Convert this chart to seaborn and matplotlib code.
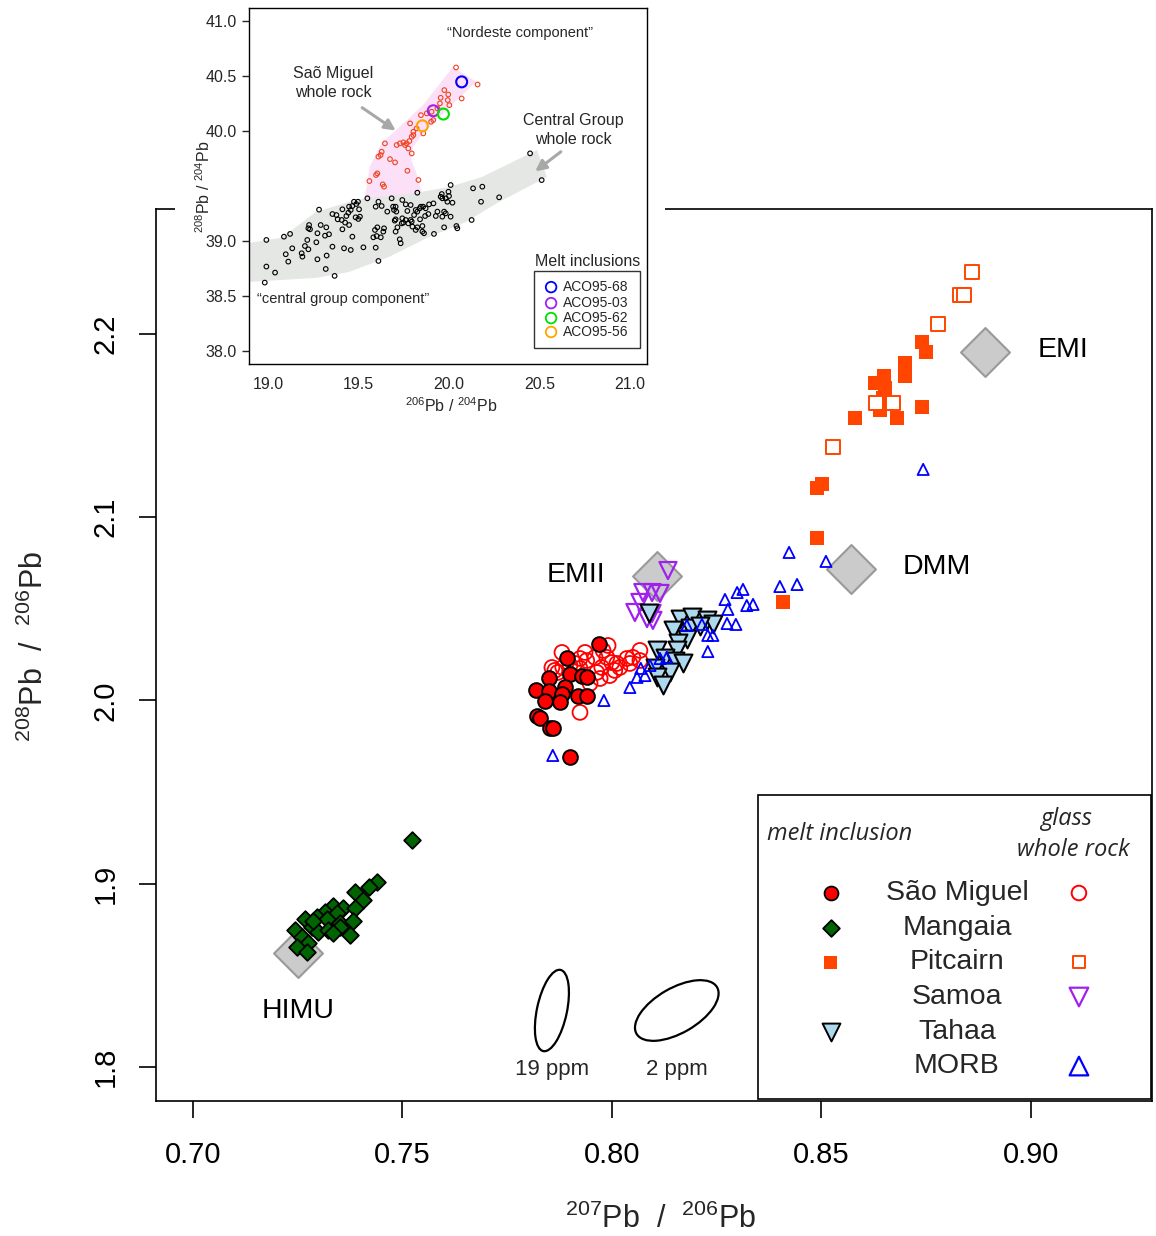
import matplotlib
matplotlib.use("Agg")
import matplotlib.pyplot as plt
import seaborn as sns
from matplotlib.patches import Ellipse, Rectangle
from matplotlib.transforms import ScaledTranslation

# ---------------- main plot data (207Pb/206Pb vs 208Pb/206Pb) ----------------
em_names = ['EMI', 'DMM', 'EMII', 'HIMU']
em_x = [0.889, 0.857, 0.8107, 0.725]
em_y = [2.190, 2.072, 2.0677, 1.862]

sm_mi_x = [0.7969, 0.7893, 0.7900, 0.7850, 0.7928, 0.7940, 0.7819, 0.7850, 0.7888, 0.7881,
           0.7919, 0.7940, 0.7840, 0.7876, 0.7821, 0.7828, 0.7852, 0.7859, 0.7900]
sm_mi_y = [2.0306, 2.0229, 2.0147, 2.0120, 2.0136, 2.0126, 2.0055, 2.0049, 2.0071, 2.0033,
           2.0027, 2.0027, 1.9995, 1.9989, 1.9913, 1.9907, 1.9847, 1.9847, 1.9689]

sm_wr_x = [0.7881, 0.7924, 0.7940, 0.7960, 0.7991, 0.7988, 0.7976, 0.8012, 0.7995, 0.8036,
           0.8067, 0.8067, 0.7864, 0.7871, 0.7912, 0.7924, 0.7964, 0.8007, 0.7972, 0.7948,
           0.7924, 0.7857, 0.7883, 0.7900, 0.7979, 0.8019, 0.8043, 0.8050, 0.7936, 0.8000]
sm_wr_y = [2.0262, 2.0229, 2.0218, 2.0235, 2.0300, 2.0235, 2.0180, 2.0202, 2.0136, 2.0229,
           2.0273, 2.0218, 2.0164, 2.0153, 2.0202, 2.0175, 2.0153, 2.0164, 2.0120, 2.0093,
           1.9935, 2.0180, 2.0180, 2.0191, 2.0273, 2.0180, 2.0202, 2.0235, 2.0262, 2.0207]

mg_x = [0.7523, 0.7439, 0.7420, 0.7387, 0.7406, 0.7334, 0.7358, 0.7387, 0.7315, 0.7344,
        0.7296, 0.7267, 0.7320, 0.7351, 0.7382, 0.7375, 0.7284, 0.7298, 0.7322, 0.7351,
        0.7334, 0.7243, 0.7260, 0.7275, 0.7248, 0.7272, 0.7286]
mg_y = [1.9241, 1.9007, 1.8980, 1.8952, 1.8909, 1.8881, 1.8870, 1.8865, 1.8843, 1.8838,
        1.8816, 1.8810, 1.8810, 1.8783, 1.8799, 1.8718, 1.8761, 1.8734, 1.8745, 1.8761,
        1.8729, 1.8745, 1.8707, 1.8679, 1.8652, 1.8625, 1.8799]

pc_mi_x = [0.8740, 0.8750, 0.8700, 0.8700, 0.8649, 0.8628, 0.8652, 0.8647, 0.8640, 0.8680,
           0.8740, 0.8580, 0.8501, 0.8490, 0.8490, 0.8408]
pc_mi_y = [2.1954, 2.1899, 2.1844, 2.1768, 2.1768, 2.1730, 2.1703, 2.1653, 2.1583, 2.1539,
           2.1599, 2.1539, 2.1179, 2.1162, 2.0889, 2.0535]
pc_wr_x = [0.8860, 0.8831, 0.8840, 0.8778, 0.8630, 0.8671, 0.8528]
pc_wr_y = [2.2336, 2.2210, 2.2210, 2.2057, 2.1621, 2.1626, 2.1381]

sa_x = [0.8134, 0.8074, 0.8096, 0.8115, 0.8067, 0.8055, 0.8096, 0.8098, 0.8084]
sa_y = [2.0709, 2.0589, 2.0589, 2.0584, 2.0535, 2.0480, 2.0475, 2.0437, 2.0447]

th_x = [0.8088, 0.8162, 0.8191, 0.8227, 0.8241, 0.8146, 0.8186, 0.8179, 0.8158, 0.8108,
        0.8155, 0.8127, 0.8151, 0.8170, 0.8103, 0.8139, 0.8108, 0.8122, 0.8210]
th_y = [2.0480, 2.0447, 2.0453, 2.0437, 2.0415, 2.0382, 2.0393, 2.0338, 2.0311, 2.0273,
        2.0273, 2.0229, 2.0218, 2.0207, 2.0175, 2.0153, 2.0126, 2.0082, 2.0409]

mb_x = [0.8743, 0.8423, 0.8511, 0.8401, 0.8442, 0.8313, 0.8299, 0.8270, 0.8337, 0.8322,
        0.8277, 0.8275, 0.8296, 0.8179, 0.8215, 0.8229, 0.8241, 0.8229, 0.8131, 0.8115,
        0.8079, 0.8060, 0.8043, 0.7981, 0.7859, 0.8069, 0.8091]
mb_y = [2.1261, 2.0808, 2.0759, 2.0622, 2.0633, 2.0606, 2.0589, 2.0551, 2.0524, 2.0518,
        2.0497, 2.0420, 2.0415, 2.0409, 2.0415, 2.0355, 2.0355, 2.0267, 2.0235, 2.0229,
        2.0136, 2.0126, 2.0071, 2.0000, 1.9700, 2.0175, 2.0191]

err_labels = ['19 ppm', '2 ppm']
err_x = [0.7857, 0.8155]
err_y = [1.8308, 1.8308]

x_ticks = [0.70, 0.75, 0.80, 0.85, 0.90]
x_ticklabels = ['0.70', '0.75', '0.80', '0.85', '0.90']
y_ticks = [1.8, 1.9, 2.0, 2.1, 2.2]
y_ticklabels = ['1.8', '1.9', '2.0', '2.1', '2.2']

legend_names = ['São Miguel', 'Mangaia', 'Pitcairn', 'Samoa', 'Tahaa', 'MORB']

# ---------------- inset data (206Pb/204Pb vs 208Pb/204Pb) ----------------
cg_x = [20.448, 20.512, 20.184, 20.133, 20.009, 19.997, 19.960, 19.954, 19.963, 20.277,
        20.177, 20.019, 19.991, 19.914, 19.890, 19.857, 19.844, 19.838, 19.871, 19.825,
        19.788, 19.761, 19.742, 19.770, 19.816, 19.807, 19.886, 19.927, 19.973, 19.982,
        20.009, 19.963, 19.840, 19.853, 19.788, 19.794, 19.742, 19.748, 19.705, 19.700,
        19.696, 19.691, 19.683, 19.659, 19.628, 19.595, 19.610, 19.549, 19.497, 19.488,
        19.475, 19.466, 19.457, 19.503, 19.508, 19.499, 19.484, 19.444, 19.433, 19.411,
        19.378, 19.385, 19.356, 19.282, 19.407, 19.426, 19.448, 19.411, 19.322, 19.315,
        19.337, 19.291, 19.273, 19.227, 19.223, 19.232, 19.217, 19.204, 19.223, 19.267,
        19.356, 19.420, 19.457, 19.466, 19.527, 19.595, 19.600, 19.582, 19.623, 19.591,
        19.604, 19.641, 19.637, 19.705, 19.715, 19.739, 19.798, 19.825, 19.853, 19.862,
        19.917, 19.973, 20.041, 20.046, 20.125, 19.728, 19.733, 19.610, 19.324, 19.273,
        19.190, 19.186, 19.134, 19.098, 19.112, 19.088, 19.122, 18.991, 18.991, 19.039,
        18.982, 19.319, 19.368, 19.709, 19.775, 19.868, 19.816, 19.936, 19.761, 19.705,
        19.982, 20.000, 19.825, 19.448]
cg_y = [39.797, 39.554, 39.494, 39.479, 39.509, 39.448, 39.427, 39.403, 39.388, 39.397,
        39.357, 39.348, 39.357, 39.342, 39.333, 39.312, 39.312, 39.297, 39.297, 39.267,
        39.327, 39.333, 39.373, 39.273, 39.282, 39.236, 39.245, 39.227, 39.267, 39.251,
        39.221, 39.221, 39.197, 39.136, 39.191, 39.176, 39.206, 39.167, 39.197, 39.185,
        39.282, 39.312, 39.388, 39.267, 39.318, 39.312, 39.357, 39.388, 39.357, 39.336,
        39.357, 39.318, 39.282, 39.288, 39.221, 39.200, 39.215, 39.257, 39.227, 39.288,
        39.236, 39.197, 39.245, 39.285, 39.191, 39.167, 39.145, 39.106, 39.124, 39.048,
        39.061, 39.145, 39.070, 39.145, 39.115, 39.106, 39.009, 38.954, 38.924, 38.988,
        38.948, 38.933, 38.918, 39.039, 38.942, 38.939, 39.045, 39.033, 39.033, 39.100,
        39.124, 39.115, 39.085, 39.085, 39.124, 39.160, 39.130, 39.124, 39.085, 39.070,
        39.064, 39.124, 39.136, 39.115, 39.191, 39.015, 38.979, 38.818, 38.867, 38.833,
        38.857, 38.888, 38.933, 38.879, 38.812, 39.039, 39.064, 39.009, 38.767, 38.712,
        38.621, 38.745, 38.682, 39.267, 39.160, 39.227, 39.100, 39.267, 39.191, 39.312,
        39.388, 39.409, 39.439, 39.312]

smwr_x = [20.039, 20.158, 19.974, 19.996, 19.954, 20.070, 19.993, 20.002, 19.950, 19.936,
          19.904, 19.877, 19.845, 19.901, 19.913, 19.785, 19.858, 19.821, 19.803, 19.794,
          19.781, 19.766, 19.748, 19.757, 19.775, 19.711, 19.646, 19.628, 19.622, 19.610,
          19.674, 19.702, 19.794, 19.770, 19.831, 19.604, 19.597, 19.560, 19.634, 19.641,
          19.803, 19.729]
smwr_y = [40.579, 40.424, 40.373, 40.333, 40.303, 40.297, 40.282, 40.236, 40.252, 40.206,
          40.176, 40.161, 40.145, 40.085, 40.100, 40.070, 39.979, 40.024, 39.964, 39.948,
          39.909, 39.888, 39.897, 39.873, 39.842, 39.873, 39.888, 39.812, 39.782, 39.767,
          39.745, 39.715, 39.797, 39.639, 39.555, 39.615, 39.600, 39.545, 39.515, 39.494,
          39.994, 39.888]

mi_labels = ['ACO95-68', 'ACO95-03', 'ACO95-62', 'ACO95-56']
mi_colors = ['#0000ff', '#a020f0', '#00e000', '#ffa500']
mi_x = [20.070, 19.913, 19.969, 19.853]
mi_y = [40.448, 40.185, 40.155, 40.048]

pink_x = [19.534, 19.562, 19.626, 19.718, 19.856, 20.022, 20.151, 19.985, 19.856, 19.801,
          19.792, 19.820, 19.851]
pink_y = [39.388, 39.676, 39.888, 40.024, 40.236, 40.585, 40.448, 40.191, 39.979, 39.858,
          39.736, 39.615, 39.433]
gray_x = [18.895, 19.066, 19.133, 19.265, 19.448, 19.541, 19.812, 20.000, 20.182, 20.486,
          20.541, 20.276, 20.094, 19.890, 19.669, 19.448, 19.265, 19.077, 18.895]
gray_y = [38.982, 39.027, 39.100, 39.264, 39.355, 39.391, 39.436, 39.491, 39.582, 39.827,
          39.582, 39.355, 39.173, 39.036, 38.855, 38.718, 38.664, 38.645, 38.627]

in_x_ticks = [19.0, 19.5, 20.0, 20.5, 21.0]
in_x_ticklabels = ['19.0', '19.5', '20.0', '20.5', '21.0']
in_y_ticks = [38.0, 38.5, 39.0, 40.0, 40.5, 41.0]
in_y_ticklabels = ['38.0', '38.5', '39.0', '40.0', '40.5', '41.0']

# ---------------- style ----------------
sns.set_theme(style="ticks")
plt.rcParams['font.family'] = ['Liberation Sans', 'DejaVu Sans']
plt.rcParams['mathtext.fontset'] = 'custom'
plt.rcParams['mathtext.rm'] = 'Liberation Sans'
plt.rcParams['mathtext.default'] = 'rm'
plt.rcParams['axes.linewidth'] = 1.2
plt.rcParams['axes.edgecolor'] = 'black'

RED = '#ff0000'
GREEN = '#006400'
ORANGE = '#ff4500'
PURPLE = '#a020f0'
LBLUE = '#add8ee'
BLUE = '#0000ff'

fig = plt.figure(figsize=(11.56, 12.36), dpi=100)
fig.patch.set_facecolor('white')
ax = fig.add_axes([0.1349, 0.1092, 0.8616, 0.7217])
ax.set_facecolor('white')


def sc(axis, x, y, **kw):
    sns.scatterplot(x=x, y=y, ax=axis, legend=False, **kw)


# end-member diamonds
sc(ax, em_x, em_y, marker='D', s=620, color='#cbcbcb', edgecolor='#999999', linewidth=1.5, zorder=2)
sc(ax, sa_x, sa_y, marker='v', s=150, color=PURPLE, facecolor='none', edgecolor=PURPLE, linewidth=1.6, zorder=3)
sc(ax, sm_wr_x, sm_wr_y, marker='o', s=115, color=RED, facecolor='none', edgecolor=RED, linewidth=1.3, zorder=3)
sc(ax, sm_mi_x, sm_mi_y, marker='o', s=112, color=RED, edgecolor='black', linewidth=1.4, zorder=4)
sc(ax, th_x, th_y, marker='v', s=165, color=LBLUE, edgecolor='black', linewidth=1.5, zorder=4)
sc(ax, mb_x, mb_y, marker='^', s=65, color=BLUE, facecolor='none', edgecolor=BLUE, linewidth=1.3, zorder=5)
sc(ax, mg_x, mg_y, marker='D', s=72, color=GREEN, edgecolor='black', linewidth=1.3, zorder=4)
sc(ax, pc_mi_x, pc_mi_y, marker='s', s=95, color=ORANGE, edgecolor=ORANGE, linewidth=0, zorder=4)
sc(ax, pc_wr_x, pc_wr_y, marker='s', s=90, color=ORANGE, facecolor='white', edgecolor=ORANGE, linewidth=1.4, zorder=5)

# end-member labels
em_label_pos = {'EMI': (0.9015, 2.1915), 'DMM': (0.8695, 2.0731),
                'EMII': (0.7845, 2.0682), 'HIMU': (0.7165, 1.8303)}
for name in em_names:
    px, py = em_label_pos[name]
    ax.text(px, py, name, fontsize=20.5, ha='left', va='center', color='black')

# analytical error ellipses
ell_specs = [(0.30, 0.83, -12), (0.93, 0.45, 30)]
for lab, ex, ey, (w, h, ang) in zip(err_labels, err_x, err_y, ell_specs):
    tr = fig.dpi_scale_trans + ScaledTranslation(ex, ey, ax.transData)
    ax.add_patch(Ellipse((0, 0), w, h, angle=ang, transform=tr, fill=False,
                         edgecolor='black', linewidth=1.6, zorder=3))
    ax.text(ex, 1.7986, lab, fontsize=16, ha='center', va='center')

ax.set_xlim(0.6912, 0.9289)
ax.set_ylim(1.7814, 2.2682)
ax.set_xticks(x_ticks, labels=x_ticklabels)
ax.set_yticks(y_ticks, labels=y_ticklabels, rotation=90, va='center')
ax.tick_params(axis='both', direction='out', length=12, width=1.2, labelsize=21,
               color='black', labelcolor='black')
ax.tick_params(axis='x', pad=17)
ax.tick_params(axis='y', pad=14)
for sp in ax.spines.values():
    sp.set_visible(True)
    sp.set_color('black')
    sp.set_linewidth(1.2)

# custom legend box
ax.add_patch(Rectangle((0.6044, 0.0022), 0.395, 0.341, transform=ax.transAxes,
                       fill=False, edgecolor='black', linewidth=1.2, zorder=6, clip_on=False))
ax.text(0.6867, 0.2993, 'melt inclusion', transform=ax.transAxes, fontsize=17,
        fontstyle='italic', family=['Open Sans', 'DejaVu Sans'], ha='center', va='center')
ax.text(0.9137, 0.3161, 'glass', transform=ax.transAxes, fontsize=17,
        fontstyle='italic', family=['Open Sans', 'DejaVu Sans'], ha='center', va='center')
ax.text(0.9207, 0.2814, 'whole rock', transform=ax.transAxes, fontsize=17,
        fontstyle='italic', family=['Open Sans', 'DejaVu Sans'], ha='center', va='center')
leg_y = [0.2332, 0.1939, 0.1558, 0.1166, 0.0774, 0.0392]
left_specs = [dict(marker='o', s=100, c=RED, edgecolors='black', linewidths=1.3),
              dict(marker='D', s=72, c=GREEN, edgecolors='black', linewidths=1.3),
              dict(marker='s', s=88, c=ORANGE, edgecolors='none'),
              None,
              dict(marker='v', s=165, c=LBLUE, edgecolors='black', linewidths=1.4),
              None]
right_specs = [dict(marker='o', s=110, facecolors='none', edgecolors=RED, linewidths=1.4),
               None,
               dict(marker='s', s=75, facecolors='none', edgecolors=ORANGE, linewidths=1.4),
               dict(marker='v', s=180, facecolors='none', edgecolors=PURPLE, linewidths=1.6),
               None,
               dict(marker='^', s=180, facecolors='none', edgecolors=BLUE, linewidths=1.6)]
for name, yy, ls, rs in zip(legend_names, leg_y, left_specs, right_specs):
    ax.text(0.8042, yy, name, transform=ax.transAxes, fontsize=20.5, ha='center', va='center')
    if ls is not None:
        ax.scatter([0.6777], [yy], transform=ax.transAxes, clip_on=False, zorder=7, **ls)
    if rs is not None:
        ax.scatter([0.9267], [yy], transform=ax.transAxes, clip_on=False, zorder=7, **rs)

# axis labels
fig.text(0.5718, 0.0065, r'$^{207}$Pb  /  $^{206}$Pb', fontsize=22, ha='center', va='baseline')
fig.text(0.0372, 0.4773, r'$^{208}$Pb  /  $^{206}$Pb', fontsize=22, rotation=90,
         rotation_mode='anchor', ha='center', va='baseline')

# white backing of the inset (hides part of main frame)
fig.add_artist(Rectangle((0.1514, 0.6602), 0.4239, 0.3398, transform=fig.transFigure,
                         facecolor='white', edgecolor='none', zorder=1))

# ---------------- inset ----------------
axin = fig.add_axes([0.2154, 0.7055, 0.3443, 0.288], zorder=3)
axin.set_facecolor('white')
axin.fill(pink_x, pink_y, color='#fce0f8', lw=0, zorder=1)
axin.fill(gray_x, gray_y, color='#e4e7e4', lw=0, zorder=1)
sc(axin, cg_x, cg_y, marker='o', s=11, color='black', facecolor='none', edgecolor='black', linewidth=0.8, zorder=3)
sc(axin, smwr_x, smwr_y, marker='o', s=11, color='#ee4422', facecolor='none', edgecolor='#ee4422', linewidth=0.8, zorder=3)
for lab, mx, my, mc in zip(mi_labels, mi_x, mi_y, mi_colors):
    sc(axin, [mx], [my], marker='o', s=62, color=mc, facecolor='none', edgecolor=mc, linewidth=1.5, zorder=4)

axin.annotate('', xy=(19.718, 39.991), xytext=(19.508, 40.227),
              arrowprops=dict(arrowstyle='-|>', color='#a8a8a8', lw=2.2, mutation_scale=16))
axin.annotate('', xy=(20.464, 39.618), xytext=(20.630, 39.827),
              arrowprops=dict(arrowstyle='-|>', color='#a8a8a8', lw=2.2, mutation_scale=16))

axin.text(20.392, 40.891, '“Nordeste component”', fontsize=10.5, ha='center', va='center')
axin.text(19.359, 40.436, 'Saõ Miguel\nwhole rock', fontsize=11.5, ha='center', va='center',
          linespacing=1.3)
axin.text(20.685, 40.009, 'Central Group\nwhole rock', fontsize=11.5, ha='center', va='center',
          linespacing=1.3)
axin.text(19.414, 38.473, '“central group component”', fontsize=10.5, ha='center', va='center')

axin.text(0.852, 0.287, 'Melt inclusions', transform=axin.transAxes, fontsize=11.5,
          ha='center', va='center')
axin.add_patch(Rectangle((0.716, 0.045), 0.266, 0.216, transform=axin.transAxes,
                         fill=False, edgecolor='#333333', linewidth=1.0, zorder=5))
in_leg_y = [0.216, 0.171, 0.129, 0.090]
for lab, mc, yy in zip(mi_labels, mi_colors, in_leg_y):
    axin.scatter([0.759], [yy], transform=axin.transAxes, marker='o', s=58,
                 facecolors='none', edgecolors=mc, linewidths=1.3, zorder=6)
    axin.text(0.789, yy, lab, transform=axin.transAxes, fontsize=10, ha='left', va='center')

axin.set_xlim(18.895, 21.094)
axin.set_ylim(37.88, 41.12)
axin.set_xticks(in_x_ticks, labels=in_x_ticklabels)
axin.set_yticks(in_y_ticks, labels=in_y_ticklabels)
axin.tick_params(axis='y', direction='out', length=5, width=1.0, pad=4, labelsize=11.5)
axin.tick_params(axis='x', length=0, pad=9, labelsize=11.5)
for sp in axin.spines.values():
    sp.set_visible(True)
    sp.set_color('black')
    sp.set_linewidth(1.0)
axin.set_xlabel('')
axin.set_ylabel('')

fig.text(0.3901, 0.6667, r'$^{206}$Pb / $^{204}$Pb', fontsize=11.5, ha='center', va='baseline')
fig.text(0.1817, 0.8487, r'$^{208}$Pb / $^{204}$Pb', fontsize=11.5, rotation=90,
         rotation_mode='anchor', ha='center', va='baseline')

ax.set_xlabel('')
ax.set_ylabel('')

fig.savefig('out.png', dpi=100, facecolor='white')
